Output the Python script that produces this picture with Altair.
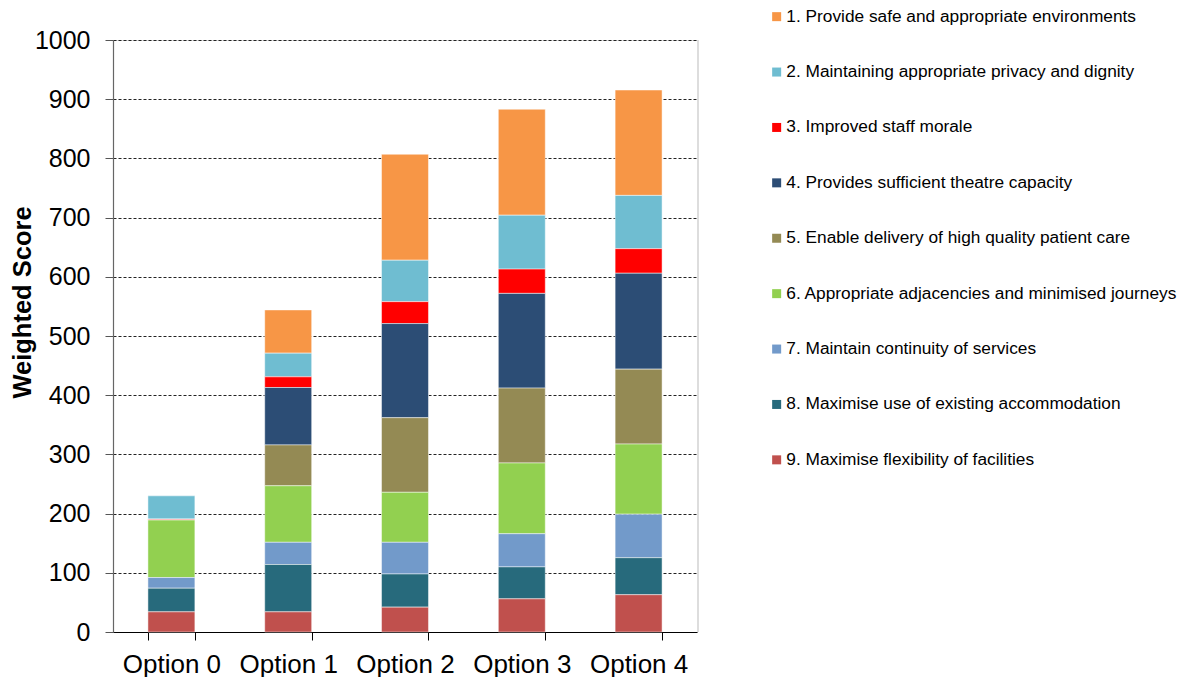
import altair as alt
import pandas as pd

options = ["Option 0", "Option 1", "Option 2", "Option 3", "Option 4"]
criteria = [
    "1. Provide safe and appropriate environments",
    "2. Maintaining appropriate privacy and dignity",
    "3. Improved staff morale",
    "4. Provides sufficient theatre capacity",
    "5. Enable delivery of high quality patient care",
    "6. Appropriate adjacencies and minimised journeys",
    "7. Maintain continuity of services",
    "8. Maximise use of existing accommodation",
    "9. Maximise flexibility of facilities",
]
colors = ["#F79646", "#6FBDD1", "#FF0000", "#2C4D75", "#948A54",
          "#92D050", "#729ACA", "#276A7C", "#C0504D"]

# values per criterion, one per option (Option 0..4)
c1 = [0, 73, 179, 179, 178]
c2 = [39, 40, 70, 91, 90]
c3 = [2, 18, 37, 41, 41.5]
c4 = [0, 97, 159, 160, 162]
c5 = [0, 69, 126, 126.5, 126.5]
c6 = [97, 95.5, 84.5, 119.5, 118.5]
c7 = [18, 37.5, 53.5, 56, 73.5]
c8 = [40, 80, 56, 54, 62.5]
c9 = [34, 34, 42, 56, 63]
series = [c1, c2, c3, c4, c5, c6, c7, c8, c9]

rows = []
for i, (name, vals) in enumerate(zip(criteria, series)):
    for opt, v in zip(options, vals):
        rows.append({"option": opt, "criterion": name, "num": i + 1, "value": v})
df = pd.DataFrame(rows)

W, H = 584, 592
FONT = "Liberation Sans"

bars = alt.Chart(df).mark_bar(stroke="#ffffff", strokeWidth=0.8, strokeOpacity=0.6).encode(
    x=alt.X("option:N", sort=options,
            scale=alt.Scale(paddingInner=0.598, paddingOuter=0.299),
            axis=alt.Axis(title=None, labelAngle=0, labelFontSize=26, labelFont=FONT,
                          labelColor="#000000", labelPadding=11, tickBand="extent",
                          tickSize=8, tickColor="#000000", domainColor="#000000",
                          domainWidth=1.2, grid=False)),
    y=alt.Y("value:Q", stack="zero",
            scale=alt.Scale(domain=[0, 1000], nice=False),
            axis=alt.Axis(title="Weighted Score", values=list(range(0, 1001, 100)),
                          format="d",
                          labelFontSize=25, labelFont=FONT, labelColor="#000000",
                          labelPadding=15, tickSize=8, tickColor="#555555",
                          domainColor="#666666", domainWidth=1.2,
                          grid=True, gridColor="#222222", gridDash=[3, 2], gridWidth=1,
                          titleFontSize=25.5, titleFont=FONT, titleFontWeight="bold",
                          titleColor="#000000", titleAngle=-90, titleX=-83, titleY=262,
                          titleAlign="center", titleBaseline="alphabetic")),
    color=alt.Color("criterion:N", sort=criteria,
                    scale=alt.Scale(domain=criteria, range=colors),
                    legend=alt.Legend(title=None, orient="none", legendX=655, legendY=-32,
                                      symbolType="square", symbolSize=81,
                                      symbolStrokeWidth=0, labelFontSize=17.3,
                                      labelFont=FONT, labelColor="#000000",
                                      labelOffset=1, rowPadding=37.4, labelLimit=500,
                                      padding=0)),
    order=alt.Order("num:Q", sort="descending"),
)

border = alt.Chart(df).mark_rule(color="#dddddd", strokeWidth=2).encode(
    x=alt.value(W + 1), y=alt.value(0), y2=alt.value(H)
)

chart = alt.layer(bars, border).properties(
    width=W, height=H,
    autosize=alt.AutoSizeParams(type="none"),
    padding={"left": 113, "top": 40, "right": 1182 - 113 - W, "bottom": 677 - 40 - H},
).configure_view(stroke=None).configure(background="#ffffff")

chart.save("out.html", embed_options={"renderer": "svg", "actions": False})
